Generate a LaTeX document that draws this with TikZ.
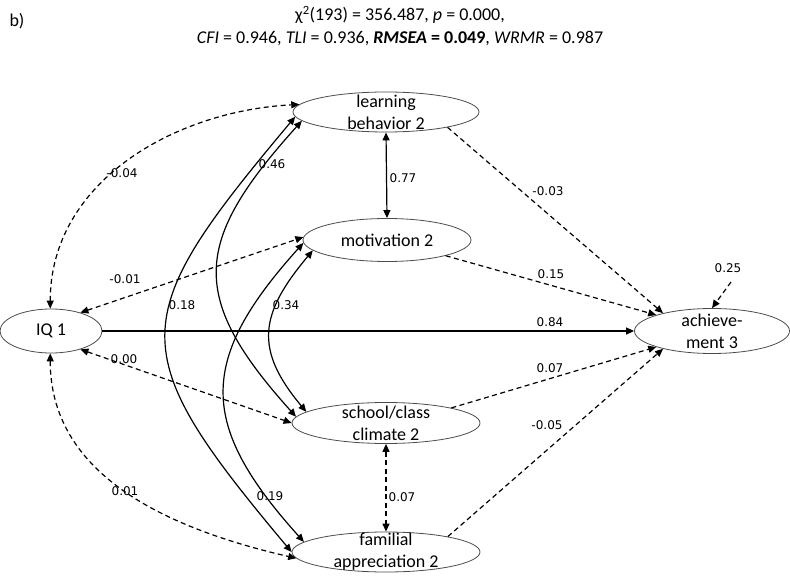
\documentclass[tikz,border=0pt]{standalone}
\usepackage{fontspec}
\setmainfont{Carlito}
\newfontfamily\coeffont{DejaVu Sans}
\usetikzlibrary{arrows.meta, shapes.geometric}

\begin{document}
\begin{tikzpicture}[x=1pt, y=1pt, >={Triangle[length=8pt, width=7pt]},
	latent/.style={ellipse, draw=black!70, line width=0.8pt, inner sep=0pt},
	vname/.style={font=\fontsize{18}{22}\selectfont, align=center},
	coef/.style={font=\coeffont\fontsize{12}{14}\selectfont, inner sep=0pt},
	solidline/.style={line width=1.2pt},
	dashline/.style={line width=1.2pt, dash pattern=on 5pt off 3.5pt}]
	\useasboundingbox (0,0) rectangle (790,579);

	\node (tag) at (17,558) {\fontsize{18}{22}\selectfont b)};
	\node[align=center, font=\fontsize{18}{23}\selectfont] (fit) at (400,553)
		{χ\textsuperscript{2}(193) = 356.487, \textit{p} = 0.000,\\
		\textit{CFI} = 0.946, \textit{TLI} = 0.936, \textbf{\textit{RMSEA} = 0.049}, \textit{WRMR} = 0.987};

	\node[latent, minimum width=186pt, minimum height=40pt, label={[vname]center:{learning\\behavior 2}}] (LB2) at (386,467) {};
	\node[latent, minimum width=168pt, minimum height=43pt, label={[vname]center:motivation 2}] (MOT2) at (387,339) {};
	\node[latent, minimum width=102pt, minimum height=44pt, label={[vname]center:IQ 1}] (IQ1) at (51,248) {};
	\node[latent, minimum width=188pt, minimum height=41pt, label={[vname]center:{school/class\\climate 2}}] (SCC2) at (386,156) {};
	\node[latent, minimum width=188pt, minimum height=40pt, label={[vname]center:{familial\\appreciation 2}}] (FAM2) at (386,27) {};
	\node[latent, minimum width=155pt, minimum height=45pt, label={[vname]center:{achieve-\\ment 3}}] (ACH3) at (712,248) {};
	\coordinate (E3) at (731,297);

	\draw[solidline, ->] (IQ1.east) -- (ACH3.west);
	\draw[dashline, ->] (LB2.-14) -- (ACH3.160);
	\draw[dashline, ->] (MOT2.-15) -- (ACH3.164);
	\draw[dashline, ->] (SCC2.13) -- (ACH3.196);
	\draw[dashline, ->] (FAM2.14) -- (ACH3.200);
	\draw[dashline, ->] (E3) -- (ACH3.north);

	\draw[solidline, <->] (LB2.south) -- (MOT2.north);
	\draw[dashline, <->] (SCC2.south) -- (FAM2.north);

	\draw[dashline, <->] (IQ1.92) to[out=90, in=183] (LB2.175);
	\draw[dashline, <->] (IQ1.32) -- (MOT2.178);
	\draw[dashline, <->] (IQ1.-32) -- (SCC2.180);
	\draw[dashline, <->] (IQ1.-92) to[out=-90, in=167] (FAM2.184);

	\draw[solidline, <->] (LB2.183) to[out=230, in=130, looseness=1.55] (FAM2.180);
	\draw[solidline, <->] (LB2.186) to[out=228, in=132, looseness=1.4] (SCC2.176);
	\draw[solidline, <->] (MOT2.182) to[out=228, in=132, looseness=1.35] (FAM2.173);
	\draw[solidline, <->] (MOT2.188) to[out=230, in=130, looseness=1.3] (SCC2.172);

	\node[coef] (c084) at (550,257) {0.84};
	\node[coef] (c003) at (548,388) {-0.03};
	\node[coef] (c015) at (551,305) {0.15};
	\node[coef] (c007a) at (550,211) {0.07};
	\node[coef] (c005) at (547,154) {-0.05};
	\node[coef] (c025) at (728,311) {0.25};
	\node[coef] (c077) at (403,401) {0.77};
	\node[coef] (c007b) at (402,82) {0.07};
	\node[coef] (c004) at (122,406) {-0.04};
	\node[coef] (c001a) at (125,300) {-0.01};
	\node[coef] (c000) at (124,220) {0.00};
	\node[coef] (c001b) at (125,88) {0.01};
	\node[coef] (c018) at (182,274) {0.18};
	\node[coef] (c046) at (272,415) {0.46};
	\node[coef] (c034) at (286,274) {0.34};
	\node[coef] (c019) at (270,83) {0.19};
\end{tikzpicture}
\end{document}
